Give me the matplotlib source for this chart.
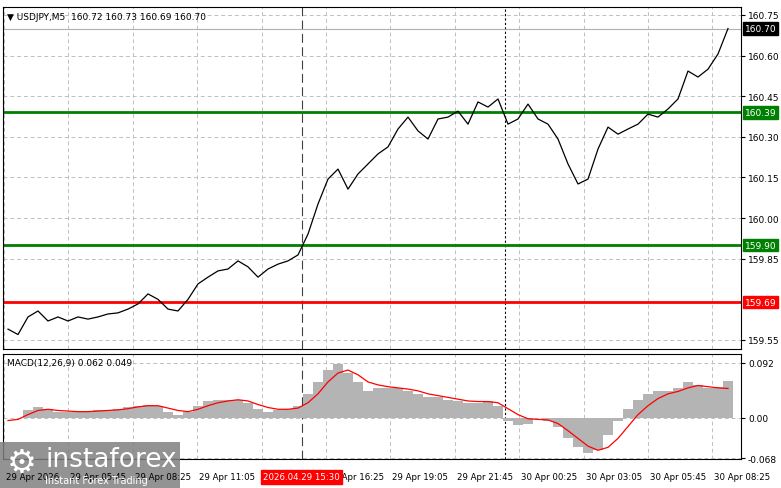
import matplotlib
matplotlib.use("Agg")
import matplotlib.pyplot as plt
import numpy as np

price = [159.59,159.57,159.635,159.657,159.62,159.635,159.62,159.635,159.627,159.635,159.646,159.65,159.664,159.683,159.72,159.70,159.664,159.657,159.70,159.757,159.782,159.805,159.812,159.842,159.82,159.782,159.812,159.83,159.842,159.864,159.941,160.052,160.144,160.181,160.107,160.163,160.20,160.237,160.263,160.329,160.373,160.322,160.292,160.366,160.373,160.395,160.347,160.429,160.41,160.44,160.347,160.366,160.421,160.366,160.347,160.292,160.20,160.126,160.144,160.255,160.336,160.31,160.329,160.347,160.384,160.373,160.403,160.44,160.543,160.521,160.55,160.606,160.70]
macd = [0,0,0.012,0.018,0.015,0.01,0.01,0.01,0.01,0.012,0.012,0.015,0.018,0.02,0.022,0.02,0.01,0.005,0.01,0.02,0.028,0.03,0.03,0.03,0.025,0.015,0.01,0.012,0.015,0.02,0.04,0.06,0.08,0.09,0.075,0.06,0.045,0.05,0.05,0.05,0.045,0.04,0.035,0.035,0.03,0.028,0.025,0.025,0.028,0.02,-0.005,-0.012,-0.01,0.0,-0.005,-0.015,-0.035,-0.05,-0.06,-0.055,-0.03,-0.005,0.015,0.03,0.04,0.045,0.045,0.05,0.06,0.055,0.05,0.052,0.062]
signal = [-0.005,-0.003,0.005,0.012,0.014,0.012,0.011,0.01,0.01,0.011,0.012,0.013,0.015,0.018,0.02,0.02,0.016,0.012,0.01,0.014,0.02,0.025,0.028,0.03,0.028,0.022,0.017,0.014,0.014,0.016,0.025,0.04,0.06,0.075,0.08,0.072,0.06,0.055,0.052,0.05,0.048,0.045,0.04,0.037,0.034,0.031,0.028,0.027,0.027,0.025,0.015,0.005,-0.002,-0.003,-0.004,-0.01,-0.022,-0.035,-0.048,-0.055,-0.05,-0.035,-0.015,0.005,0.02,0.032,0.04,0.044,0.05,0.054,0.052,0.05,0.049]
time_labels = ["29 Apr 2026","29 Apr 05:45","29 Apr 08:25","29 Apr 11:05","29 Apr 13:45","29 Apr 16:25","29 Apr 19:05","29 Apr 21:45","30 Apr 00:25","30 Apr 03:05","30 Apr 05:45","30 Apr 08:25"]
price_ticks = [160.75,160.60,160.45,160.30,160.15,160.00,159.85,159.55]
levels = [(160.39,"#008000"),(159.90,"#008000"),(159.69,"#ff0000")]
macd_ticks = [0.092,0.0,-0.068]

W,H = 781,489
fig = plt.figure(figsize=(W/100,H/100),dpi=100)
fig.patch.set_facecolor("white")
def ax_px(x0,y0,x1,y1):
    return fig.add_axes([x0/W,1-y1/H,(x1-x0)/W,(y1-y0)/H])
ax = ax_px(3,8,741,350)
ax2 = ax_px(3,355,741,460)
xs = 5+10*np.arange(len(price))
grid_x = 1+64.4*np.arange(len(time_labels))
for a in (ax,ax2):
    a.set_xlim(0,738)
    for s in a.spines.values(): s.set_color("black"); s.set_linewidth(0.8)
    a.set_xticks([])
    for gx in grid_x:
        a.axvline(gx,color="#c0c0c0",ls=(0,(4,3)),lw=0.7,zorder=0)
    a.axvline(299,color="#404040",ls=(0,(8,4)),lw=0.8,zorder=1)
    a.axvline(502,color="black",ls=(0,(2,2)),lw=0.8,zorder=1)
    a.yaxis.tick_right()
    a.tick_params(axis="y",labelsize=6.5,length=3,pad=2)

ylo = 160.75-(350-16)/270.8; yhi = 160.75+(16-8)/270.8
ax.set_ylim(ylo,yhi)
ax.set_yticks(price_ticks); ax.set_yticklabels([f"{v:.2f}" for v in price_ticks])
for v in price_ticks:
    ax.axhline(v,color="#c0c0c0",ls=(0,(4,3)),lw=0.7,zorder=0)
ax.axhline(160.70,color="#b0b0b0",lw=0.8,zorder=1)
ax.plot(xs,price,color="black",lw=0.9,zorder=3)
for v,c in levels:
    ax.axhline(v,color=c,lw=2,zorder=2)
    ax.text(1.005,v,f"{v:.2f}",transform=ax.get_yaxis_transform(),fontsize=6.5,color="white",va="center",ha="left",
            bbox=dict(boxstyle="square,pad=0.2",fc=c,ec=c),zorder=5,clip_on=False)
ax.text(1.005,160.70,"160.70",transform=ax.get_yaxis_transform(),fontsize=6.5,color="white",va="center",ha="left",
        bbox=dict(boxstyle="square,pad=0.2",fc="black",ec="black"),clip_on=False)
ax.text(0.005,0.985,"▼ USDJPY,M5  160.72 160.73 160.69 160.70",transform=ax.transAxes,fontsize=6.5,va="top",ha="left")

ax2.set_ylim(-0.068-1*(0.16/96),0.092+9*(0.16/96))
ax2.bar(xs,macd,width=10,color="#b4b4b4",zorder=2)
ax2.plot(xs,signal,color="red",lw=0.9,zorder=3)
ax2.set_yticks(macd_ticks); ax2.set_yticklabels(["0.092","0.00","-0.068"])
for v in macd_ticks:
    ax2.axhline(v,color="#c0c0c0",ls=(0,(4,3)),lw=0.7,zorder=0)
ax2.text(0.005,0.96,"MACD(12,26,9) 0.062 0.049",transform=ax2.transAxes,fontsize=6.5,va="top",ha="left")

for gx,lab in zip(grid_x,time_labels):
    if lab=="29 Apr 13:45": continue
    fig.text((3+gx+2)/W,1-478/H,lab,fontsize=6.2,va="center",ha="left")
fig.text(263/W,1-478/H,"2026.04.29 15:30",fontsize=6.2,color="white",va="center",ha="left",
         bbox=dict(boxstyle="square,pad=0.25",fc="red",ec="red"))
fig.patches.append(plt.Rectangle((0,0),180/W,(489-443)/H,transform=fig.transFigure,fc="#808080",ec="none",alpha=0.85))
fig.text(45/W,1-460/H,"instaforex",fontsize=19,color="white",va="center",ha="left")
fig.text(45/W,1-481/H,"Instant Forex Trading",fontsize=7,color="white",va="center",ha="left")
fig.text(22/W,1-463/H,"⚙",fontsize=24,color="white",va="center",ha="center")
fig.savefig("out.png",dpi=100)
